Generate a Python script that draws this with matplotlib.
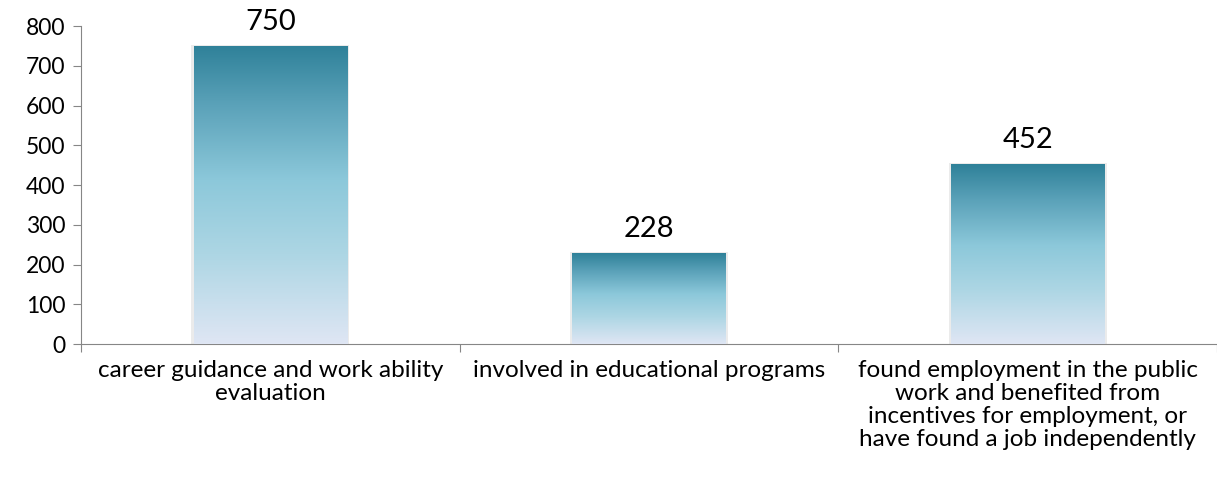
import numpy as np
import matplotlib.pyplot as plt
from matplotlib.colors import LinearSegmentedColormap

# Данные
categories = [
    "career guidance and work ability\nevaluation",
    "involved in educational programs",
    "found employment in the public\nwork and benefited from\nincentives for employment, or\nhave found a job independently",
]
values = [750, 228, 452]
y_ticks = [0, 100, 200, 300, 400, 500, 600, 700, 800]

plt.rcParams['font.family'] = ['Lato', 'DejaVu Sans']

# Градиент столбцов (снизу вверх)
grad = LinearSegmentedColormap.from_list(
    'bar_grad',
    [(0.0, '#dfe6f4'), (0.3, '#add6e4'), (0.55, '#8cc8da'),
     (0.8, '#5ba2b9'), (1.0, '#2f8199')])

fig = plt.figure(figsize=(12.17, 4.94), dpi=100)
ax = fig.add_axes([81 / 1217, 1 - 344 / 494, 1 - 81 / 1217, (344 - 26) / 494])

x = np.arange(len(values))
bars = ax.bar(x, values, width=0.405, color='none', edgecolor='none', zorder=2)

gy = np.linspace(0, 1, 256).reshape(-1, 1)
for b in bars:
    x0, w, h = b.get_x(), b.get_width(), b.get_height()
    # лёгкая тень
    ax.bar(x0 + w / 2, h + 3, width=w + 0.012, color='#d9d9d9',
           alpha=0.5, zorder=1)
    im = ax.imshow(gy, cmap=grad, origin='lower', aspect='auto',
                   extent=(x0, x0 + w, 0, h), zorder=3)
    im.set_clip_path(b)
    ax.text(x0 + w / 2, h + 28, str(int(h)), ha='center', va='bottom',
            fontsize=21, color='black')

ax.set_xlim(-0.5, 2.5)
ax.set_ylim(0, 800)
ax.set_yticks(y_ticks)
ax.tick_params(axis='y', labelsize=16.5, length=6, color='#868686', pad=5)
ax.set_xticks([-0.5, 0.5, 1.5, 2.5])
ax.set_xticklabels([])
ax.tick_params(axis='x', length=6, color='#868686')
for i, lab in enumerate(categories):
    ax.text(i, -40, lab, ha='center', va='top', fontsize=17.5,
            linespacing=1.12)

for s in ['top', 'right']:
    ax.spines[s].set_visible(False)
for s in ['left', 'bottom']:
    ax.spines[s].set_color('#868686')

fig.savefig('out.png', dpi=100)
